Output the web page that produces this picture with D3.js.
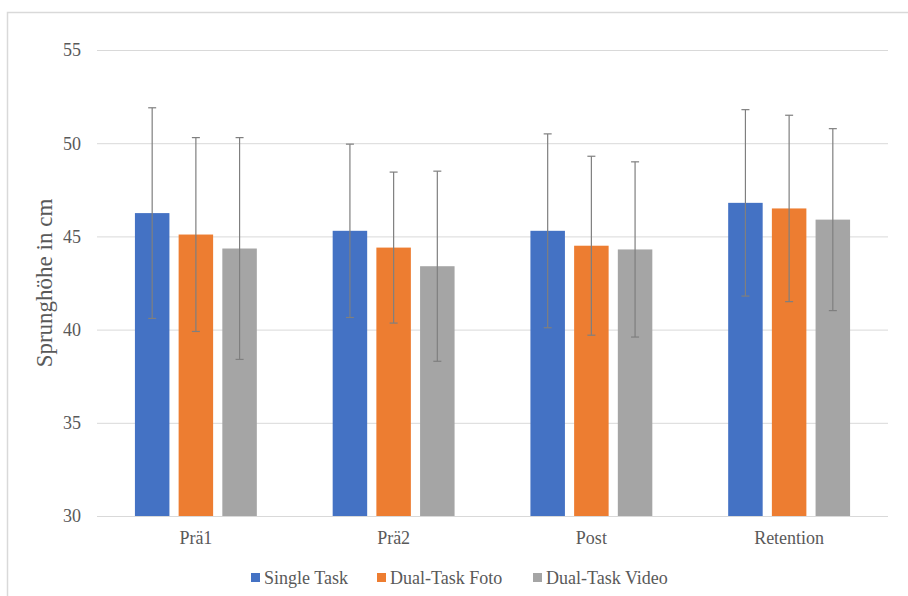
<!DOCTYPE html>
<html><head><meta charset="utf-8">
<script src="https://cdn.jsdelivr.net/npm/d3@7"></script>
<style>body{margin:0;background:#fff;}svg{display:block;}
svg text{font-family:"Liberation Serif","Times New Roman",Times,"DejaVu Serif",serif;}</style>
</head><body>
<script>
const categories = ["Prä1", "Prä2", "Post", "Retention"];
const seriesNames = ["Single Task", "Dual-Task Foto", "Dual-Task Video"];
const singleTask = [46.25, 45.3, 45.3, 46.8];
const dualFoto = [45.1, 44.4, 44.5, 46.5];
const dualVideo = [44.35, 43.4, 44.3, 45.9];
const sdSingle = [5.65, 4.65, 5.2, 5.0];
const sdFoto = [5.2, 4.05, 4.8, 5.0];
const sdVideo = [5.95, 5.1, 4.7, 4.88];
const yTicks = [30, 35, 40, 45, 50, 55];
const colors = ["#4472C4", "#ED7D31", "#A5A5A5"];

(function () {
const series = [singleTask, dualFoto, dualVideo];
const sds = [sdSingle, sdFoto, sdVideo];

const W = 908, H = 596;
const svg = d3.select("body").append("svg").attr("width", W).attr("height", H);

// outer border
svg.append("rect").attr("x", 7.5).attr("y", 12.5).attr("width", W).attr("height", H)
  .attr("fill", "none").attr("stroke", "#d9d9d9").attr("stroke-width", 1.5);

const pLeft = 97, pRight = 888, pTop = 50, pBottom = 516;
const x = d3.scaleBand().domain(categories).range([pLeft, pRight]).paddingInner(0).paddingOuter(0);
const y = d3.scaleLinear().domain([30, 55]).range([pBottom, pTop]);

const barW = 34.5, step = 43.7;

// gridlines
svg.append("g").selectAll("line").data(yTicks).join("line")
  .attr("x1", pLeft).attr("x2", pRight)
  .attr("y1", d => y(d) + 0.5).attr("y2", d => y(d) + 0.5)
  .attr("stroke", "#d9d9d9").attr("stroke-width", 1);

// y tick labels
svg.append("g").selectAll("text").data(yTicks).join("text")
  .attr("x", 81).attr("y", d => y(d)).attr("dy", "0.35em")
  .attr("text-anchor", "end").attr("font-size", 18)
  .attr("fill", "#595959").text(d => d);

// y title
svg.append("text").attr("transform", `translate(52,${(pTop + pBottom) / 2}) rotate(-90)`)
  .attr("text-anchor", "middle").attr("font-size", 23)
  .attr("fill", "#595959").text("Sprunghöhe in cm");

// x labels
svg.append("g").selectAll("text").data(categories).join("text")
  .attr("x", d => x(d) + x.bandwidth() / 2).attr("y", 538).attr("dy", "0.35em")
  .attr("text-anchor", "middle").attr("font-size", 18)
  .attr("fill", "#595959").text(d => d);

// bars
series.forEach((vals, si) => {
  const g = svg.append("g");
  const cx = (c) => x(c) + x.bandwidth() / 2 + (si - 1) * step;
  g.selectAll("rect").data(categories).join("rect")
    .attr("x", (c) => cx(c) - barW / 2).attr("width", barW)
    .attr("y", (c, i) => y(vals[i])).attr("height", (c, i) => y(30) - y(vals[i]))
    .attr("fill", colors[si]);
  // error bars
  categories.forEach((c, i) => {
    const xc = cx(c), hi = y(vals[i] + sds[si][i]), lo = y(vals[i] - sds[si][i]);
    g.append("line").attr("x1", xc).attr("x2", xc).attr("y1", hi).attr("y2", lo)
      .attr("stroke", "#7f7f7f").attr("stroke-width", 1.2);
    [hi, lo].forEach(yy => g.append("line").attr("x1", xc - 4).attr("x2", xc + 4)
      .attr("y1", yy).attr("y2", yy).attr("stroke", "#7f7f7f").attr("stroke-width", 1.2));
  });
});

// legend
const legendX = [251, 377, 533];
const lg = svg.append("g");
seriesNames.forEach((n, i) => {
  lg.append("rect").attr("x", legendX[i]).attr("y", 573).attr("width", 9).attr("height", 9).attr("fill", colors[i]);
  lg.append("text").attr("x", legendX[i] + 13).attr("y", 578).attr("dy", "0.35em")
    .attr("font-size", 18).attr("fill", "#595959").text(n);
});
})();
</script>
</body></html>
